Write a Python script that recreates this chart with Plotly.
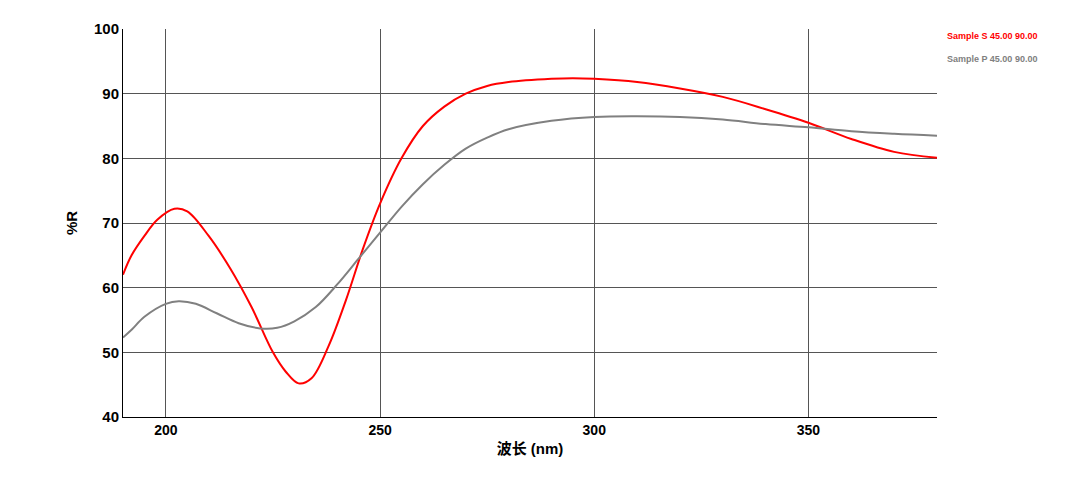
import plotly.graph_objects as go

wl_s = [190,192,195,198,202,205,210,215,220,225,228,231,234,238,242,246,250,255,260,265,270,275,280,290,295,300,310,320,330,340,350,360,370,380]
r_s = [62,65,68,70.5,72.2,71.8,68,63,57,50,47,45.2,46,51,58,66,73,80,85,88,90,91.2,91.8,92.3,92.4,92.3,91.8,90.8,89.5,87.6,85.5,83,81,80.1]
wl_p = [190,192,195,200,203,207,212,217,222,226,230,235,240,245,250,255,260,265,270,275,280,290,300,310,320,330,340,350,360,370,380]
r_p = [52.3,53.5,55.5,57.5,57.9,57.5,56,54.5,53.7,53.8,54.8,57,60.5,64.5,68.5,72.5,76,79,81.5,83.2,84.5,85.8,86.4,86.5,86.4,86,85.3,84.8,84.2,83.8,83.5]
names = ["Sample S 45.00 90.00", "Sample P 45.00 90.00"]
colors = ["#ff0000", "#808080"]

fig = go.Figure()
fig.add_trace(go.Scatter(x=wl_s, y=r_s, mode="lines", line=dict(color=colors[0], width=2, shape="spline"), name=names[0]))
fig.add_trace(go.Scatter(x=wl_p, y=r_p, mode="lines", line=dict(color=colors[1], width=2, shape="spline"), name=names[1]))
for i, (n, c) in enumerate(zip(names, colors)):
    fig.add_annotation(text=f"<b>{n}</b>", x=1.0, y=1.0 - i*0.06, xref="paper", yref="paper",
                       xanchor="left", yanchor="top", xshift=8, showarrow=False,
                       font=dict(size=9, color=c, family="Liberation Sans"))
ax = dict(showline=True, linecolor="black", linewidth=1, mirror=False, gridcolor="#555555", gridwidth=1,
          ticks="", zeroline=False)
fig.update_layout(width=1080, height=490, plot_bgcolor="white", paper_bgcolor="white", showlegend=False,
                  margin=dict(l=115, r=151, t=13, b=81),
                  font=dict(family="Liberation Sans, Noto Sans CJK SC"),
                  xaxis=dict(range=[190, 380], tickvals=[200, 250, 300, 350],
                             title=dict(text="<b>波长 (nm)</b>", font=dict(size=15, color="black"), standoff=6), **ax),
                  yaxis=dict(range=[40, 100], dtick=10,
                             title=dict(text="<b>%R</b>", font=dict(size=15, color="black"), standoff=12), **ax))
fig.update_xaxes(tickfont=dict(size=14, color="black", weight="bold"))
fig.update_yaxes(tickfont=dict(size=15, color="black", weight="bold"))
fig.write_html("out.html")
